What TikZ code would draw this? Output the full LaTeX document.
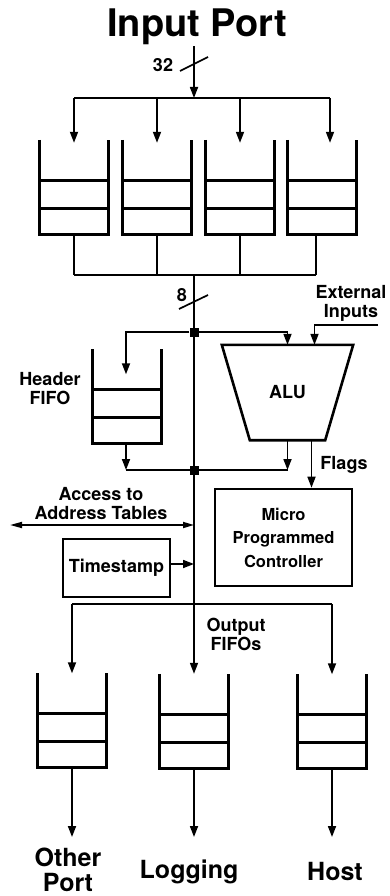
\documentclass[tikz,border=0pt]{standalone}
\usepackage{fontspec}
\setmainfont{TeX Gyre Heros}
\usetikzlibrary{positioning, arrows.meta, calc}

\begin{document}
\begin{tikzpicture}[
    x=1pt, y=-1pt,
    >={Triangle[length=11pt, width=8pt]},
    every node/.style = {font=\bfseries\fontsize{18}{19}\selectfont, inner sep=1pt},
    fifo/.style  = {rectangle, minimum width=68pt, minimum height=94pt, inner sep=0pt},
    wall/.style  = {line width=2.8pt},
    box/.style   = {rectangle, draw, line width=2.6pt, align=center},
    line/.style  = {line width=1.7pt},
    arr/.style   = {->, line width=1.7pt},
    dot/.style   = {rectangle, fill, inner sep=0pt, minimum size=9pt},
    big/.style   = {font=\bfseries\fontsize{25}{25}\selectfont, align=center},
    lbl/.style   = {align=center}
]
\useasboundingbox (0,0) rectangle (389,896);

% Input port and 32 bit width
\node[font=\bfseries\fontsize{38}{38}\selectfont, anchor=base] (inport) at (197,37) {Input Port};
\coordinate (tbus) at (194,98);
\coordinate (w32)  at (194,64);
\draw[arr] (inport.south -| tbus) -- (tbus);
\draw[line] ($(w32)+(-14,7)$) -- ($(w32)+(14,-7)$);
\node (n32) at ($(w32)+(-31,1)$) {32};

% Input FIFOs
\node[fifo] (if1) at ( 74,187) {};
\node[fifo] (if2) at (157,187) {};
\node[fifo] (if3) at (240,187) {};
\node[fifo] (if4) at (322,187) {};
\coordinate (cbus) at (194,275);

\draw[line] (tbus -| if1.north) -- ($(tbus -| if4.north)+(8,0)$);
\foreach \f/\dx in {if1/0, if2/0, if3/0, if4/8}
    \draw[arr] ($(tbus -| \f.north)+(\dx,0)$) -- ($(\f.north)+(\dx,3)$);
\foreach \f/\dx in {if1/0, if2/0, if3/0, if4/-6}
    \draw[line] ($(\f.south)+(\dx,0)$) -- ($(cbus -| \f.south)+(\dx,0)$);
\draw[line] (cbus -| if1.south) -- ($(cbus -| if4.south)+(-6,0)$);

% 8 bit internal bus
\coordinate (w8) at (194,302);
\draw[line] ($(w8)+(-15,7)$) -- ($(w8)+(14,-7)$);
\node (n8) at ($(w8)+(-12,-7)$) {8};
\node[dot] (j1) at (194,332) {};
\node[dot] (j2) at (194,470) {};

% Header FIFO and ALU
\node[fifo] (hf) at (127,396.5) {};
\node[lbl] (hfl) at (50,389) {Header\\FIFO};
\node[minimum width=131pt, minimum height=95pt, inner sep=0pt] (alu) at (287.5,392.5) {ALU};
\draw[line width=2.6pt] (alu.north west) -- (alu.north east)
    -- ($(alu.south east)+(-28,0)$) -- ($(alu.south west)+(28,0)$) -- cycle;
\node[lbl] (ext) at (351,303) {External\\Inputs};
\coordinate (extin) at (378,325);
\coordinate (aflag) at ($(alu.south)+(24,0)$);

\draw[arr] (j1) -| ($(hf.north)+(-1,25)$);
\draw[arr] (j1) -| (alu.north);
\draw[arr] (extin) -| ($(alu.north)+(27,0)$);
\draw[arr] ($(hf.south)+(-1,0)$) -- ($(hf.south |- j2)+(-1,0)$);
\draw[arr] (alu.south) -- (alu.south |- j2);
\draw[line] ($(hf.south |- j2)+(-1,0)$) -- (alu.south |- j2);

% Controller, flags
\node[box, minimum width=137pt, minimum height=97pt,
      font=\bfseries\fontsize{16.5}{23.5}\selectfont] (ctrl) at (283.5,537.5)
      {Micro\\Programmed\\Controller};
\draw[arr] (aflag) -- (aflag |- ctrl.north);
\node (flags) at (344,465) {Flags};

% Address tables, timestamp
\node[lbl] (acc) at (101,504) {Access to\\Address Tables};
\coordinate (acl) at (10,525);
\draw[{Triangle[length=12pt, width=6pt]}-{Triangle[length=11pt, width=6pt]}, line width=1.7pt]
    (acl) -- (acl -| j2);
\node[box, minimum width=107pt, minimum height=58pt] (ts) at (116.5,568) {Timestamp};
\draw[arr] ([yshift=4pt]ts.east) -- ([yshift=4pt]ts.east -| j2);

% Output FIFOs
\node[fifo] (of1) at ( 72,720.5) {};
\node[fifo] (of2) at (194,721) {};
\node[fifo] (of3) at (332,721.5) {};
\node[lbl] (ofl) at (236,634) {Output\\FIFOs};
\coordinate (obus) at (194,604);
\coordinate (oend) at (0,837);

\draw[arr] (cbus) -- (of2.north);
\draw[line] (obus -| of1.north) -- (obus -| of3.north);
\draw[arr] (obus -| of1.north) -- (of1.north);
\draw[arr] (obus -| of3.north) -- (of3.north);
\foreach \f in {of1, of2, of3}
    \draw[arr] (\f.south) -- (\f.south |- oend);

% FIFO walls and slots
\foreach \f in {if1, if2, if3, if4, hf, of1, of2, of3}
    \draw[wall] (\f.north west) -- (\f.south west) -- (\f.south east) -- (\f.north east)
        ($(\f.south west)+(0,-26)$) -- ($(\f.south east)+(0,-26)$)
        ($(\f.south west)+(0,-54)$) -- ($(\f.south east)+(0,-54)$);

% Destinations
\node[big] (other) at ( 68,870) {Other\\Port};
\node[big] (logg)  at (189,872) {Logging};
\node[big] (host)  at (335,871) {Host};

\end{tikzpicture}
\end{document}
